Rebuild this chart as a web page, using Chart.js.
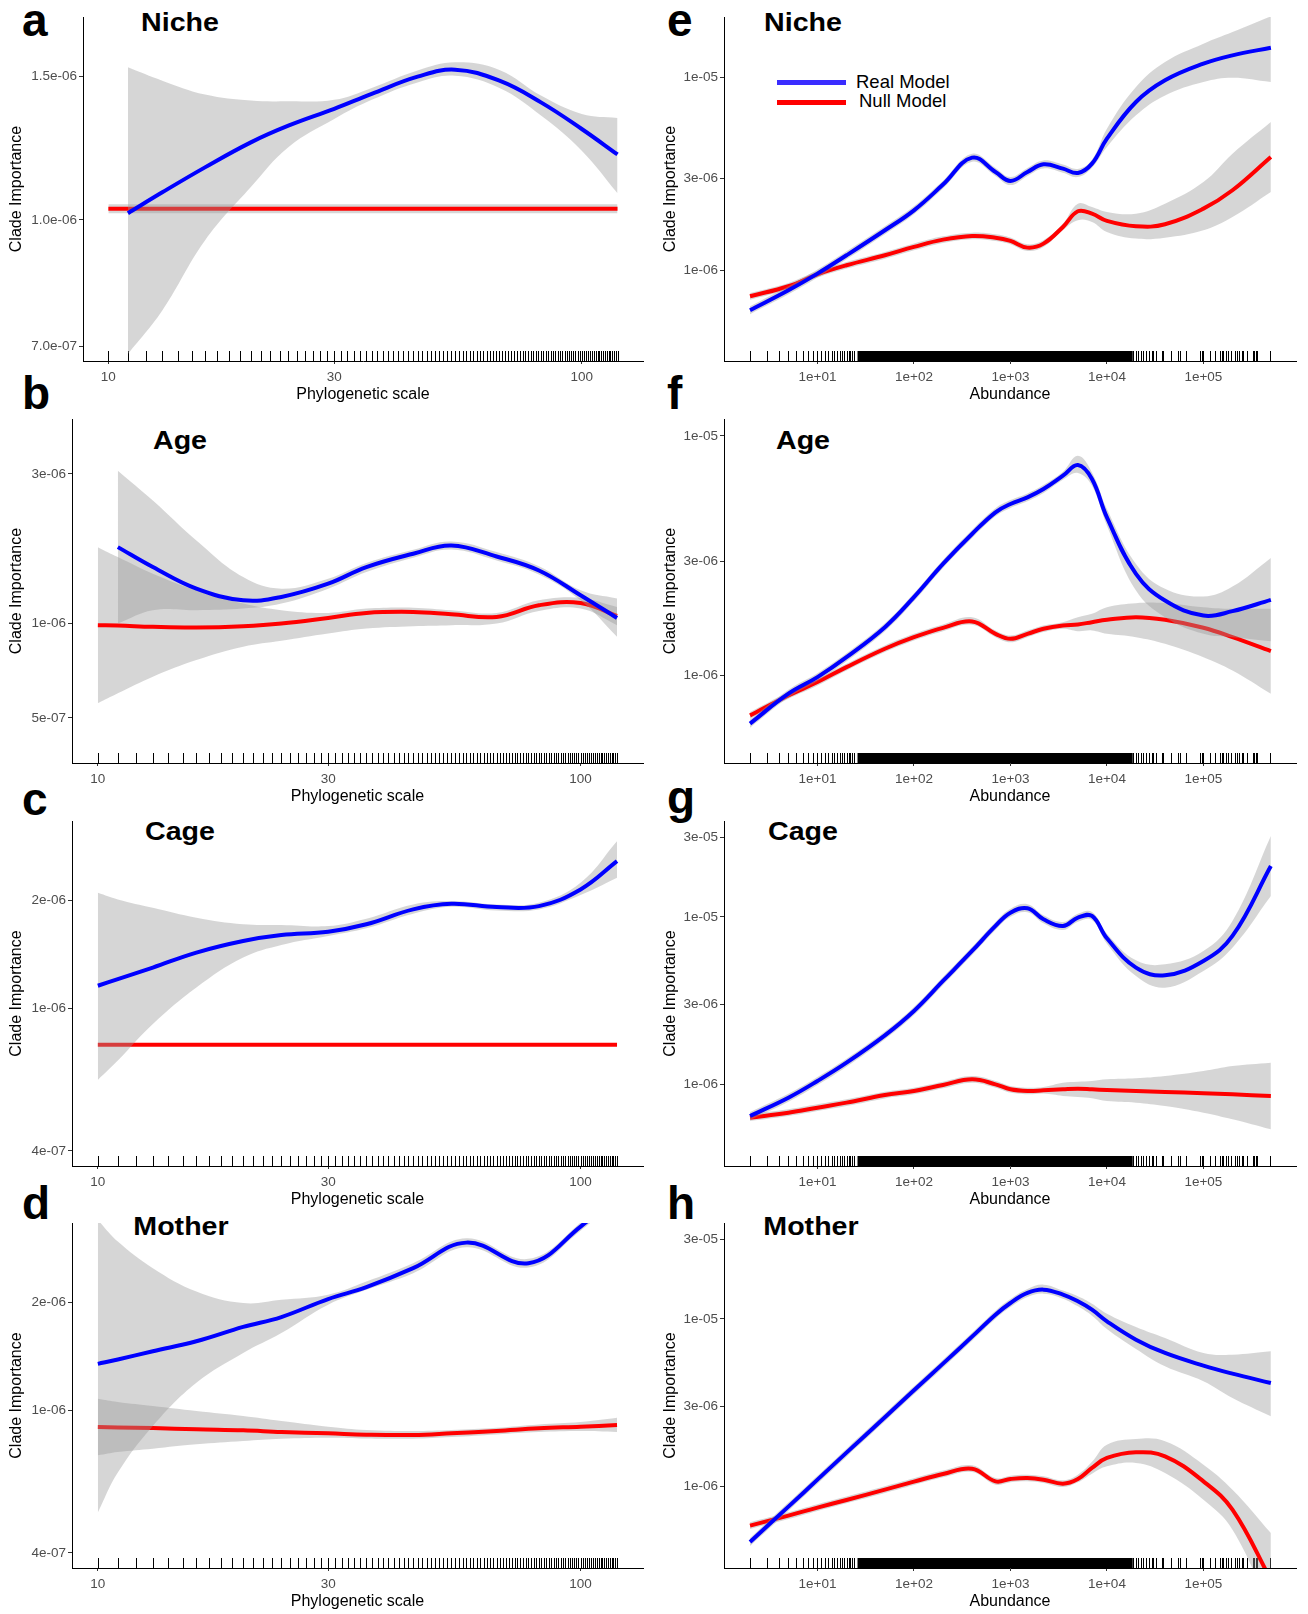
<!DOCTYPE html>
<html>
<head>
<meta charset="utf-8">
<script src="https://cdn.jsdelivr.net/npm/chart.js@4.4.1/dist/chart.umd.min.js"></script>
<style>
  body { margin: 0; background: #fff; width: 1308px; height: 1614px; position: relative; overflow: hidden;
         font-family: "Liberation Sans", Arial, sans-serif; }
  canvas { position: absolute; }
  .letter { position: absolute; font-weight: bold; font-size: 46px; line-height: 46px; color: #000; }
  .title { position: absolute; width: 200px; text-align: center; font-weight: bold; font-size: 26px;
           line-height: 26px; color: #000; transform: scaleX(1.1); }
  .leg { position: absolute; font-size: 18.5px; line-height: 18.5px; color: #000; }
  .legline { position: absolute; height: 5px; width: 69px; left: 777px; }
</style>
</head>
<body>

<!-- panel letters -->
<div class="letter" style="left:22px; top:-3px">a</div>
<div class="letter" style="left:22px; top:370px">b</div>
<div class="letter" style="left:22px; top:776px">c</div>
<div class="letter" style="left:22px; top:1180px">d</div>
<div class="letter" style="left:667px; top:-3px">e</div>
<div class="letter" style="left:667px; top:370px">f</div>
<div class="letter" style="left:667px; top:774px">g</div>
<div class="letter" style="left:667px; top:1180px">h</div>

<!-- panel titles -->
<div class="title" style="left:80px; top:9px">Niche</div>
<div class="title" style="left:80px; top:427px">Age</div>
<div class="title" style="left:80px; top:818px">Cage</div>
<div class="title" style="left:81px; top:1213px">Mother</div>
<div class="title" style="left:703px; top:9px">Niche</div>
<div class="title" style="left:703px; top:427px">Age</div>
<div class="title" style="left:703px; top:818px">Cage</div>
<div class="title" style="left:711px; top:1213px">Mother</div>

<!-- legend of panel e -->
<div class="legline" style="top:80px; background:#3a2cff"></div>
<div class="legline" style="top:100px; background:#ff0000"></div>
<div class="leg" style="left:856px; top:73px">Real Model</div>
<div class="leg" style="left:859px; top:92px">Null Model</div>

<script>
// ---- x grids ----
const phyloX = [10, 11, 13, 16, 20, 24, 30, 36, 45, 54, 67, 82, 100, 119];
const phyloX11 = [11, 13, 16, 20, 24, 30, 36, 45, 54, 67, 82, 100, 119];
const motherPhyloX = [10, 11, 13, 16, 20, 24, 30, 36, 45, 58, 78, 100, 119];
const flatX = [10, 119];
const abundX = [2, 5, 10, 20, 50, 100, 200, 400, 700, 1000, 1500, 2200, 3500, 5000, 7000,
                10000, 20000, 40000, 100000, 200000, 500000];

// ---- axes ----
const phyloRange = [8.84, 134.7];
const abundRange = [1.075, 911000];
const phyloTicks = [10, 30, 100];
const phyloTickLabels = ["10", "30", "100"];
const abundTicks = [10, 100, 1000, 10000, 100000];
const abundTickLabels = ["1e+01", "1e+02", "1e+03", "1e+04", "1e+05"];

// ---- rugs (observations along x) ----
const phyloRug = [10, 11, 12, 13, 14, 15, 16, 17, 18, 19, 20, 21, 22, 23, 24, 25, 26, 27, 28, 29,
  30, 31, 32, 33, 34, 35, 36, 37, 38, 39, 40, 41, 42, 43, 44, 45, 46, 47, 48, 49, 50, 51, 52, 53,
  54, 55, 56, 57, 58, 59, 60, 61, 62, 63, 64, 65, 66, 67, 68, 69, 70, 71, 72, 73, 74, 75, 76, 77,
  78, 79, 80, 81, 82, 83, 84, 85, 86, 87, 88, 89, 90, 91, 92, 93, 94, 95, 96, 97, 98, 99, 100,
  101, 102, 103, 104, 105, 106, 107, 108, 109, 110, 111, 112, 113, 114, 115, 116, 117, 118, 119];
const abundRug = [2, 3, 4, 5, 6, 7, 8, 9, 10, 11, 12, 13, 14, 15, 16, 17, 18, 19, 20, 21, 22, 23, 24,
  18700, 20100, 21100, 22700, 23800, 25500, 27400, 29400, 30200, 32400, 37400, 38300, 46300,
  54700, 57400, 66200, 92400, 96900, 99200, 117000, 132000, 149000, 156000, 160000, 172000,
  180000, 193000, 213000, 223000, 234000, 251000, 257000, 283000, 327000, 334000, 351000,
  359000, 490000];
const abundRugDense = [26, 18500];   // too many to tell apart: solid block

// ---- a: Niche / phylogenetic scale ----
const aReal = [1.019e-6, 1.081e-6, 1.160e-6, 1.245e-6, 1.305e-6, 1.369e-6, 1.428e-6, 1.499e-6, 1.529e-6, 1.482e-6, 1.394e-6, 1.293e-6, 1.203e-6];
const aRealHi = [1.539e-6, 1.482e-6, 1.425e-6, 1.401e-6, 1.398e-6, 1.404e-6, 1.452e-6, 1.525e-6, 1.561e-6, 1.528e-6, 1.421e-6, 1.349e-6, 1.334e-6];
const aRealLo = [6.846e-7, 7.741e-7, 9.433e-7, 1.097e-6, 1.228e-6, 1.330e-6, 1.404e-6, 1.475e-6, 1.503e-6, 1.452e-6, 1.343e-6, 1.216e-6, 1.078e-6];
const aNull = [1.032e-6, 1.032e-6];
const aNullHi = [1.045e-6, 1.045e-6];
const aNullLo = [1.019e-6, 1.019e-6];
const aYRange = [6.71e-7, 1.774e-6];
const aYTicks = [7e-7, 1e-6, 1.5e-6];
const aYLabels = ["7.0e-07", "1.0e-06", "1.5e-06"];

// ---- b: Age / phylogenetic scale ----
const bReal = [1.753e-6, 1.514e-6, 1.292e-6, 1.186e-6, 1.216e-6, 1.340e-6, 1.514e-6, 1.670e-6, 1.775e-6, 1.637e-6, 1.477e-6, 1.231e-6, 1.042e-6];
const bRealHi = [3.075e-6, 2.468e-6, 1.841e-6, 1.407e-6, 1.292e-6, 1.390e-6, 1.560e-6, 1.719e-6, 1.827e-6, 1.690e-6, 1.522e-6, 1.276e-6, 1.201e-6];
const bRealLo = [1.000e-6, 1.103e-6, 1.103e-6, 1.116e-6, 1.158e-6, 1.292e-6, 1.460e-6, 1.622e-6, 1.723e-6, 1.590e-6, 1.435e-6, 1.186e-6, 9.07e-7];
const bNull = [9.879e-7, 9.855e-7, 9.759e-7, 9.711e-7, 9.806e-7, 1.000e-6, 1.042e-6, 1.081e-6, 1.089e-6, 1.071e-6, 1.050e-6, 1.144e-6, 1.163e-6, 1.058e-6];
const bNullHi = [1.753e-6, 1.629e-6, 1.442e-6, 1.276e-6, 1.158e-6, 1.103e-6, 1.081e-6, 1.116e-6, 1.124e-6, 1.103e-6, 1.081e-6, 1.186e-6, 1.207e-6, 1.130e-6];
const bNullLo = [5.566e-7, 5.988e-7, 6.766e-7, 7.645e-7, 8.430e-7, 8.808e-7, 9.294e-7, 9.640e-7, 9.806e-7, 9.879e-7, 1.000e-6, 1.097e-6, 1.116e-6, 9.879e-7];
const bYRange = [3.59e-7, 4.49e-6];
const bYTicks = [5e-7, 1e-6, 3e-6];
const bYLabels = ["5e-07", "1e-06", "3e-06"];

// ---- c: Cage / phylogenetic scale ----
const cReal = [1.154e-6, 1.204e-6, 1.297e-6, 1.428e-6, 1.538e-6, 1.598e-6, 1.633e-6, 1.712e-6, 1.884e-6, 1.953e-6, 1.912e-6, 1.924e-6, 2.141e-6, 2.567e-6];
const cRealHi = [2.097e-6, 2.009e-6, 1.904e-6, 1.786e-6, 1.712e-6, 1.704e-6, 1.693e-6, 1.775e-6, 1.945e-6, 1.988e-6, 1.945e-6, 1.967e-6, 2.235e-6, 2.917e-6];
const cRealLo = [6.308e-7, 7.140e-7, 9.028e-7, 1.141e-6, 1.383e-6, 1.500e-6, 1.589e-6, 1.669e-6, 1.833e-6, 1.916e-6, 1.872e-6, 1.884e-6, 2.065e-6, 2.307e-6];
const cNull = [7.909e-7, 7.909e-7];
const cNullHi = [7.97e-7, 7.97e-7];
const cNullLo = [7.85e-7, 7.85e-7];
const cYRange = [3.63e-7, 3.32e-6];
const cYTicks = [4e-7, 1e-6, 2e-6];
const cYLabels = ["4e-07", "1e-06", "2e-06"];

// ---- d: Mother / phylogenetic scale ----
const dReal = [1.345e-6, 1.383e-6, 1.459e-6, 1.555e-6, 1.705e-6, 1.817e-6, 2.039e-6, 2.201e-6, 2.486e-6, 2.929e-6, 2.567e-6, 3.246e-6, 4.0e-6];
const dRealHi = [3.387e-6, 2.948e-6, 2.486e-6, 2.141e-6, 1.988e-6, 2.030e-6, 2.097e-6, 2.282e-6, 2.567e-6, 3.012e-6, 2.639e-6, 3.330e-6, 4.2e-6];
const dRealLo = [5.186e-7, 6.696e-7, 9.028e-7, 1.191e-6, 1.443e-6, 1.640e-6, 1.967e-6, 2.164e-6, 2.408e-6, 2.844e-6, 2.497e-6, 3.163e-6, 3.85e-6];
const dNull = [8.969e-7, 8.950e-7, 8.913e-7, 8.837e-7, 8.780e-7, 8.687e-7, 8.613e-7, 8.539e-7, 8.521e-7, 8.613e-7, 8.744e-7, 8.894e-7, 8.988e-7, 9.085e-7];
const dNullHi = [1.075e-6, 1.053e-6, 1.026e-6, 9.936e-7, 9.623e-7, 9.321e-7, 8.988e-7, 8.799e-7, 8.744e-7, 8.799e-7, 8.932e-7, 9.124e-7, 9.262e-7, 9.521e-7];
const dNullLo = [7.482e-7, 7.644e-7, 7.809e-7, 8.028e-7, 8.201e-7, 8.323e-7, 8.377e-7, 8.338e-7, 8.323e-7, 8.414e-7, 8.556e-7, 8.687e-7, 8.744e-7, 8.687e-7];
const dYRange = [3.63e-7, 3.32e-6];
const dYTicks = [4e-7, 1e-6, 2e-6];
const dYLabels = ["4e-07", "1e-06", "2e-06"];

// ---- e: Niche / abundance ----
const eReal = [6.20e-7, 7.87e-7, 9.61e-7, 1.196e-6, 1.613e-6, 2.048e-6, 2.785e-6, 3.844e-6, 3.239e-6, 2.909e-6, 3.239e-6, 3.549e-6, 3.371e-6, 3.200e-6, 3.578e-6, 4.825e-6, 7.476e-6, 9.687e-6, 1.182e-5, 1.306e-5, 1.431e-5];
const eRealHi = [6.50e-7, 8.26e-7, 1.008e-6, 1.255e-6, 1.692e-6, 2.148e-6, 2.920e-6, 4.03e-6, 3.40e-6, 3.05e-6, 3.40e-6, 3.72e-6, 3.54e-6, 3.36e-6, 3.75e-6, 5.436e-6, 8.945e-6, 1.206e-5, 1.501e-5, 1.726e-5, 2.082e-5];
const eRealLo = [5.91e-7, 7.50e-7, 9.16e-7, 1.140e-6, 1.538e-6, 1.952e-6, 2.655e-6, 3.66e-6, 3.09e-6, 2.77e-6, 3.09e-6, 3.38e-6, 3.21e-6, 3.05e-6, 3.41e-6, 4.366e-6, 6.376e-6, 8.09e-6, 9.50e-6, 1.0e-5, 9.50e-6];
const eNull = [7.33e-7, 8.26e-7, 9.53e-7, 1.062e-6, 1.196e-6, 1.322e-6, 1.442e-6, 1.507e-6, 1.477e-6, 1.420e-6, 1.311e-6, 1.375e-6, 1.679e-6, 2.024e-6, 1.968e-6, 1.804e-6, 1.692e-6, 1.733e-6, 2.090e-6, 2.602e-6, 3.874e-6];
const eNullHi = [7.63e-7, 8.60e-7, 9.92e-7, 1.105e-6, 1.245e-6, 1.376e-6, 1.500e-6, 1.568e-6, 1.537e-6, 1.478e-6, 1.364e-6, 1.431e-6, 1.747e-6, 2.218e-6, 2.132e-6, 2.008e-6, 1.968e-6, 2.218e-6, 2.873e-6, 4.033e-6, 5.888e-6];
const eNullLo = [7.04e-7, 7.94e-7, 9.16e-7, 1.021e-6, 1.149e-6, 1.270e-6, 1.386e-6, 1.448e-6, 1.419e-6, 1.365e-6, 1.260e-6, 1.321e-6, 1.614e-6, 1.818e-6, 1.782e-6, 1.581e-6, 1.460e-6, 1.477e-6, 1.613e-6, 1.891e-6, 2.551e-6];
const eYRange = [3.38e-7, 2.063e-5];
const eYTicks = [1e-6, 3e-6, 1e-5];
const eYLabels = ["1e-06", "3e-06", "1e-05"];

// ---- f: Age / abundance ----
const fReal = [6.29e-7, 8.39e-7, 9.84e-7, 1.192e-6, 1.590e-6, 2.121e-6, 2.920e-6, 3.893e-6, 4.793e-6, 5.192e-6, 5.535e-6, 5.995e-6, 6.813e-6, 7.547e-6, 6.598e-6, 4.567e-6, 2.652e-6, 2.054e-6, 1.778e-6, 1.854e-6, 2.067e-6];
const fRealHi = [6.54e-7, 8.72e-7, 1.022e-6, 1.238e-6, 1.652e-6, 2.204e-6, 3.034e-6, 4.045e-6, 4.98e-6, 5.39e-6, 5.75e-6, 6.23e-6, 7.08e-6, 8.25e-6, 7.035e-6, 4.95e-6, 2.920e-6, 2.297e-6, 2.134e-6, 2.349e-6, 3.093e-6];
const fRealLo = [6.05e-7, 8.08e-7, 9.47e-7, 1.147e-6, 1.530e-6, 2.041e-6, 2.810e-6, 3.747e-6, 4.613e-6, 4.997e-6, 5.327e-6, 5.770e-6, 6.557e-6, 7.0e-6, 6.19e-6, 4.217e-6, 2.261e-6, 1.750e-6, 1.491e-6, 1.444e-6, 1.390e-6];
const fNull = [6.81e-7, 8.25e-7, 9.38e-7, 1.083e-6, 1.292e-6, 1.444e-6, 1.580e-6, 1.679e-6, 1.491e-6, 1.421e-6, 1.491e-6, 1.565e-6, 1.616e-6, 1.631e-6, 1.668e-6, 1.706e-6, 1.750e-6, 1.706e-6, 1.580e-6, 1.444e-6, 1.263e-6];
const fNullHi = [7.03e-7, 8.52e-7, 9.69e-7, 1.118e-6, 1.334e-6, 1.491e-6, 1.631e-6, 1.75e-6, 1.539e-6, 1.467e-6, 1.539e-6, 1.616e-6, 1.668e-6, 1.750e-6, 1.807e-6, 1.927e-6, 2.002e-6, 2.002e-6, 1.927e-6, 1.896e-6, 1.896e-6];
const fNullLo = [6.60e-7, 7.99e-7, 9.08e-7, 1.049e-6, 1.251e-6, 1.399e-6, 1.530e-6, 1.626e-6, 1.444e-6, 1.376e-6, 1.444e-6, 1.516e-6, 1.565e-6, 1.530e-6, 1.540e-6, 1.491e-6, 1.444e-6, 1.355e-6, 1.192e-6, 1.049e-6, 8.39e-7];
const fYRange = [4.31e-7, 1.174e-5];
const fYTicks = [1e-6, 3e-6, 1e-5];
const fYLabels = ["1e-06", "3e-06", "1e-05"];

// ---- g: Cage / abundance ----
const gReal = [6.47e-7, 8.32e-7, 1.047e-6, 1.347e-6, 1.962e-6, 2.744e-6, 4.145e-6, 6.262e-6, 8.838e-6, 1.061e-5, 1.128e-5, 9.685e-6, 8.838e-6, 9.909e-6, 1.014e-5, 7.457e-6, 4.981e-6, 4.481e-6, 5.459e-6, 7.70e-6, 2.017e-5];
const gRealHi = [6.84e-7, 8.79e-7, 1.106e-6, 1.423e-6, 2.070e-6, 2.899e-6, 4.380e-6, 6.617e-6, 9.338e-6, 1.121e-5, 1.192e-5, 1.023e-5, 9.338e-6, 1.047e-5, 1.071e-5, 7.95e-6, 5.51e-6, 5.213e-6, 6.262e-6, 9.465e-6, 3.049e-5];
const gRealLo = [6.12e-7, 7.87e-7, 9.91e-7, 1.275e-6, 1.860e-6, 2.597e-6, 3.923e-6, 5.927e-6, 8.365e-6, 1.004e-5, 1.067e-5, 9.166e-6, 8.365e-6, 9.378e-6, 9.597e-6, 6.928e-6, 4.440e-6, 3.782e-6, 4.757e-6, 6.557e-6, 1.335e-5];
const gNull = [6.32e-7, 6.77e-7, 7.25e-7, 7.77e-7, 8.63e-7, 9.12e-7, 9.91e-7, 1.071e-6, 1.000e-6, 9.34e-7, 9.12e-7, 9.21e-7, 9.34e-7, 9.42e-7, 9.34e-7, 9.25e-7, 9.12e-7, 9.00e-7, 8.84e-7, 8.71e-7, 8.52e-7];
const gNullHi = [6.62e-7, 7.09e-7, 7.59e-7, 8.13e-7, 9.03e-7, 9.55e-7, 1.037e-6, 1.121e-6, 1.047e-6, 9.78e-7, 9.55e-7, 9.64e-7, 1.023e-6, 1.037e-6, 1.047e-6, 1.071e-6, 1.086e-6, 1.121e-6, 1.201e-6, 1.287e-6, 1.347e-6];
const gNullLo = [6.04e-7, 6.47e-7, 6.93e-7, 7.42e-7, 8.24e-7, 8.71e-7, 9.47e-7, 1.023e-6, 9.55e-7, 8.92e-7, 8.71e-7, 8.80e-7, 8.52e-7, 8.40e-7, 8.25e-7, 7.95e-7, 7.77e-7, 7.42e-7, 6.77e-7, 6.18e-7, 5.38e-7];
const gYRange = [3.25e-7, 3.74e-5];
const gYTicks = [1e-6, 3e-6, 1e-5, 3e-5];
const gYLabels = ["1e-06", "3e-06", "1e-05", "3e-05"];

// ---- h: Mother / abundance ----
const hReal = [4.65e-7, 7.56e-7, 1.096e-6, 1.589e-6, 2.585e-6, 3.747e-6, 5.409e-6, 7.84e-6, 1.061e-5, 1.246e-5, 1.430e-5, 1.497e-5, 1.398e-5, 1.275e-5, 1.137e-5, 9.685e-6, 7.524e-6, 6.262e-6, 5.262e-6, 4.714e-6, 4.145e-6];
const hRealHi = [4.91e-7, 7.99e-7, 1.158e-6, 1.679e-6, 2.731e-6, 3.959e-6, 5.715e-6, 8.28e-6, 1.121e-5, 1.317e-5, 1.511e-5, 1.604e-5, 1.477e-5, 1.366e-5, 1.235e-5, 1.076e-5, 8.96e-6, 7.70e-6, 6.262e-6, 6.12e-6, 6.41e-6];
const hRealLo = [4.40e-7, 7.15e-7, 1.037e-6, 1.504e-6, 2.447e-6, 3.546e-6, 5.119e-6, 7.42e-6, 1.004e-5, 1.179e-5, 1.353e-5, 1.417e-5, 1.323e-5, 1.190e-5, 1.047e-5, 8.716e-6, 6.617e-6, 5.213e-6, 4.242e-6, 3.373e-6, 2.620e-6];
const hNull = [5.82e-7, 6.68e-7, 7.46e-7, 8.29e-7, 9.55e-7, 1.066e-6, 1.185e-6, 1.275e-6, 1.071e-6, 1.106e-6, 1.121e-6, 1.096e-6, 1.037e-6, 1.106e-6, 1.287e-6, 1.477e-6, 1.597e-6, 1.511e-6, 1.071e-6, 7.25e-7, 2.77e-7];
const hNullHi = [6.09e-7, 6.99e-7, 7.81e-7, 8.68e-7, 1.000e-6, 1.116e-6, 1.241e-6, 1.335e-6, 1.121e-6, 1.158e-6, 1.174e-6, 1.147e-6, 1.086e-6, 1.174e-6, 1.40e-6, 1.774e-6, 1.918e-6, 1.857e-6, 1.347e-6, 9.55e-7, 5.26e-7];
const hNullLo = [5.56e-7, 6.38e-7, 7.13e-7, 7.92e-7, 9.12e-7, 1.018e-6, 1.132e-6, 1.218e-6, 1.023e-6, 1.056e-6, 1.071e-6, 1.047e-6, 9.91e-7, 1.056e-6, 1.19e-6, 1.317e-6, 1.379e-6, 1.201e-6, 8.32e-7, 5.51e-7, 1.83e-7];
const hYRange = [3.25e-7, 3.74e-5];
const hYTicks = [1e-6, 3e-6, 1e-5, 3e-5];
const hYLabels = ["1e-06", "3e-06", "1e-05", "3e-05"];

// ---------------------------------------------------------------
Chart.defaults.font.family = '"Liberation Sans", Arial, sans-serif';
const BAND = "rgba(153,153,153,0.4)";

// rug marks along the bottom of the panel
const rugPlugin = {
  id: "rug",
  beforeDatasetsDraw(chart, args, opts) {
    const { ctx, chartArea } = chart;
    const xs = chart.scales.x;
    const bottom = chartArea.bottom;
    ctx.save();
    ctx.strokeStyle = "#000";
    ctx.fillStyle = "#000";
    ctx.lineWidth = 1;
    ctx.beginPath();
    opts.values.forEach((v) => {
      const px = Math.round(xs.getPixelForValue(v)) + 0.5;
      ctx.moveTo(px, bottom);
      ctx.lineTo(px, bottom - 10);
    });
    ctx.stroke();
    if (opts.dense) {
      const x0 = xs.getPixelForValue(opts.dense[0]);
      const x1 = xs.getPixelForValue(opts.dense[1]);
      ctx.fillRect(x0, bottom - 10, x1 - x0, 10);
    }
    ctx.restore();
  },
};

function pts(xs, ys) {
  return xs.map((x, i) => ({ x: x, y: ys[i] }));
}
function lineSet(xs, ys, color) {
  return { data: pts(xs, ys), borderColor: color, borderWidth: 4, pointRadius: 0, fill: false,
           tension: 0.4, borderCapStyle: "butt" };
}
function bandSet(xs, ys, fillNext) {
  return { data: pts(xs, ys), borderColor: "rgba(0,0,0,0)", borderWidth: 0, backgroundColor: BAND,
           pointRadius: 0, fill: fillNext ? "+1" : false, tension: 0.4 };
}

const phyloAxis = { range: phyloRange, ticks: phyloTicks, labels: phyloTickLabels, title: "Phylogenetic scale",
                    rug: phyloRug, dense: null };
const abundAxis = { range: abundRange, ticks: abundTicks, labels: abundTickLabels, title: "Abundance",
                    rug: abundRug, dense: abundRugDense };

// box = canvas left, top, width, height, and the width kept for the y axis
const panels = [
  { box: [7, 7, 648, 397, 76], ax: phyloAxis, rx: phyloX11, r: [aReal, aRealHi, aRealLo],
    nx: flatX, n: [aNull, aNullHi, aNullLo], y: [aYRange, aYTicks, aYLabels] },
  { box: [7, 409, 648, 397, 65], ax: phyloAxis, rx: phyloX11, r: [bReal, bRealHi, bRealLo],
    nx: phyloX, n: [bNull, bNullHi, bNullLo], y: [bYRange, bYTicks, bYLabels] },
  { box: [7, 811, 648, 398, 65], ax: phyloAxis, rx: phyloX, r: [cReal, cRealHi, cRealLo],
    nx: flatX, n: [cNull, cNullHi, cNullLo], y: [cYRange, cYTicks, cYLabels] },
  { box: [7, 1213, 648, 398, 65], ax: phyloAxis, rx: motherPhyloX, r: [dReal, dRealHi, dRealLo],
    nx: phyloX, n: [dNull, dNullHi, dNullLo], y: [dYRange, dYTicks, dYLabels] },
  { box: [661, 7, 647, 397, 63], ax: abundAxis, rx: abundX, r: [eReal, eRealHi, eRealLo],
    nx: abundX, n: [eNull, eNullHi, eNullLo], y: [eYRange, eYTicks, eYLabels] },
  { box: [661, 409, 647, 397, 63], ax: abundAxis, rx: abundX, r: [fReal, fRealHi, fRealLo],
    nx: abundX, n: [fNull, fNullHi, fNullLo], y: [fYRange, fYTicks, fYLabels] },
  { box: [661, 811, 647, 398, 63], ax: abundAxis, rx: abundX, r: [gReal, gRealHi, gRealLo],
    nx: abundX, n: [gNull, gNullHi, gNullLo], y: [gYRange, gYTicks, gYLabels] },
  { box: [661, 1213, 647, 398, 63], ax: abundAxis, rx: abundX, r: [hReal, hRealHi, hRealLo],
    nx: abundX, n: [hNull, hNullHi, hNullLo], y: [hYRange, hYTicks, hYLabels] },
];

panels.forEach((p) => {
  const [left, top, w, h, yw] = p.box;
  const cv = document.createElement("canvas");
  cv.width = w;
  cv.height = h;
  cv.style.left = left + "px";
  cv.style.top = top + "px";
  document.body.appendChild(cv);

  const tickFont = { size: 13.5 };
  new Chart(cv, {
    type: "line",
    data: {
      datasets: [
        // first dataset is drawn last (on top): blue over its band over red
        lineSet(p.rx, p.r[0], "#0000ff"),
        bandSet(p.rx, p.r[1], true),
        bandSet(p.rx, p.r[2], false),
        lineSet(p.nx, p.n[0], "#ff0000"),
        bandSet(p.nx, p.n[1], true),
        bandSet(p.nx, p.n[2], false),
      ],
    },
    options: {
      responsive: false,
      animation: false,
      events: [],
      layout: { padding: { left: 0, top: 10, right: 12, bottom: 0 } },
      plugins: {
        legend: { display: false },
        tooltip: { enabled: false },
        rug: { values: p.ax.rug, dense: p.ax.dense },
      },
      scales: {
        x: {
          type: "logarithmic",
          bounds: "data",
          min: p.ax.range[0],
          max: p.ax.range[1],
          afterBuildTicks: (s) => { s.ticks = p.ax.ticks.map((v) => ({ value: v })); },
          afterFit: (s) => { s.height = 43; },
          ticks: { autoSkip: false, maxRotation: 0, color: "#4d4d4d", font: tickFont, padding: 5,
                   callback: (v, i) => p.ax.labels[i] },
          grid: { drawOnChartArea: false, drawTicks: true, tickLength: 3, color: "#333" },
          border: { display: true, color: "#000", width: 1 },
          title: { display: true, text: p.ax.title, color: "#000", font: { size: 16 }, padding: 0 },
        },
        y: {
          type: "logarithmic",
          bounds: "data",
          min: p.y[0][0],
          max: p.y[0][1],
          afterBuildTicks: (s) => { s.ticks = p.y[1].map((v) => ({ value: v })); },
          afterFit: (s) => { s.width = yw; },
          ticks: { autoSkip: false, color: "#4d4d4d", font: tickFont, padding: 2,
                   callback: (v, i) => p.y[2][i] },
          grid: { drawOnChartArea: false, drawTicks: true, tickLength: 4, color: "#333" },
          border: { display: true, color: "#000", width: 1 },
          title: { display: true, text: "Clade Importance", color: "#000", font: { size: 16 }, padding: 0 },
        },
      },
    },
    plugins: [rugPlugin],
  });
});
</script>
</body>
</html>
